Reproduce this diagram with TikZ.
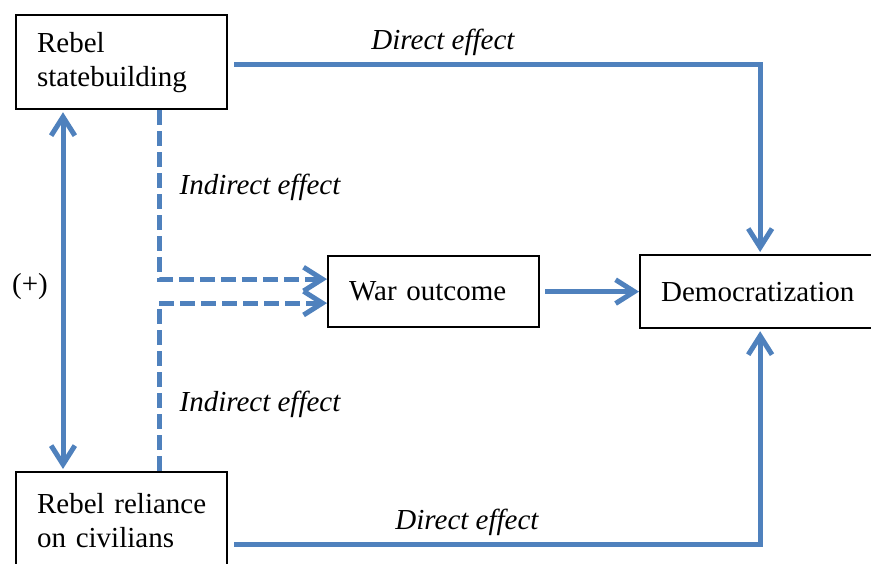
\documentclass[tikz,border=0pt]{standalone}
\usepackage{fontspec}
\setmainfont{Liberation Serif}
\usepackage{tikz}
\usepackage{xcolor}
\usetikzlibrary{arrows.meta, calc, positioning}
\definecolor{effectarrowcolor}{RGB}{79,129,189}

\begin{document}
\begin{tikzpicture}[
	x=0.4pt, y=-0.4pt,
	font=\fontsize{11.6}{13.6}\selectfont,
	box/.style={draw, line width=0.9pt, anchor=north west, align=left, inner xsep=8.4pt, inner ysep=0pt},
	effect/.style={effectarrowcolor, line width=2pt, line join=miter, -{Straight Barb[length=7.5pt,width=9.5pt]}},
	indirect/.style={effect, dash pattern=on 6pt off 2.4pt},
	effectlabel/.style={font=\fontsize{11.6}{13.6}\selectfont\itshape}
	]
\useasboundingbox (0,0) rectangle (871,564);

% Boxes
\node[box, text width=67.6pt, minimum height=37.6pt] (state-1) at (15,14) {Rebel\\statebuilding};
\node[box, text width=67.6pt, minimum height=38.8pt] (civil-1) at (15,471) {\mbox{Rebel reliance}\\\mbox{on civilians}};
\node[box, text width=67.6pt, minimum height=28.4pt] (war-1) at (327,255) {War outcome};
\node[box, text width=76.8pt, minimum height=29.2pt] (demo-1) at (639,254) {Democratization};

% Labels
\node[effectlabel] (direct-top) at (443,42) {Direct effect};
\node[effectlabel] (direct-bot) at (467,522) {Direct effect};
\node[effectlabel] (indirect-top) at (260,187) {Indirect effect};
\node[effectlabel] (indirect-bot) at (260,404) {Indirect effect};
\node (plus-1) at (30,287) {(+)};

% Direct effects
\draw[effect, shorten <=2.4pt, shorten >=0.8pt] ([yshift=-0.8pt]state-1.east) -| ([xshift=1.2pt]demo-1.north);
\draw[effect, shorten <=2.4pt, shorten >=0.8pt] ([yshift=-9.6pt]civil-1.east) -| ([xshift=1.2pt]demo-1.south);
\draw[effect, shorten <=2pt] (war-1) -- (demo-1);

% Correlation
\draw[effect, {Straight Barb[length=7.5pt,width=9.5pt]}-{Straight Barb[length=7.5pt,width=9.5pt]}, shorten <=0.8pt, shorten >=0.8pt] ([xshift=19.2pt]state-1.south west) -- ([xshift=19.2pt]civil-1.north west);

% Indirect effects
\draw[indirect] ([xshift=57.6pt]state-1.south west) |- ([yshift=5pt]war-1.west);
\draw[indirect] ([xshift=57.6pt]civil-1.north west) |- ([yshift=-4.6pt]war-1.west);

\end{tikzpicture}
\end{document}
